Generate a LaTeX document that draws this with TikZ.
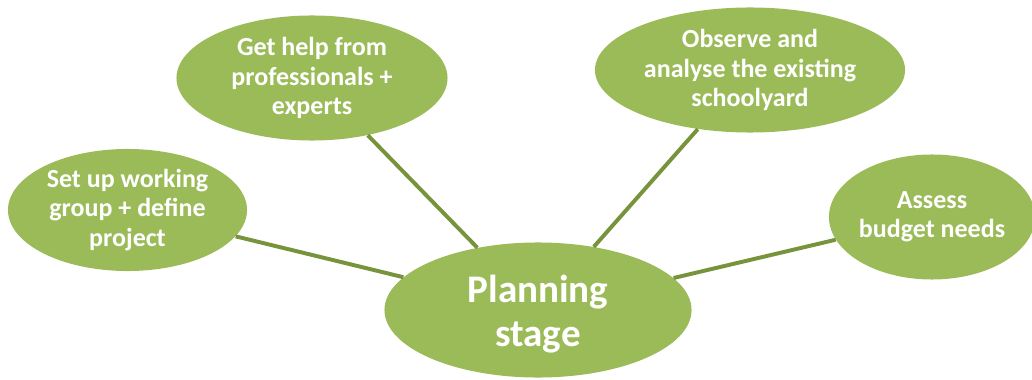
\documentclass[tikz,border=0pt]{standalone}
\usepackage{fontspec}
\setmainfont{Carlito}
\usetikzlibrary{shapes.geometric}
\definecolor{leafgreen}{HTML}{9BBB59}
\definecolor{stemgreen}{HTML}{77933C}
\tikzset{blob/.style={ellipse, fill=leafgreen, inner sep=0pt},
  words/.style={text=white, align=center, inner sep=0pt, font=\bfseries\fontsize{18.5}{20.8}\selectfont},
  hubwords/.style={words, font=\bfseries\fontsize{27.8}{31}\selectfont},
  spoke/.style={stemgreen, line width=2.8pt}}

\begin{document}
\begin{tikzpicture}[x=0.025cm,y=-0.025cm]
\useasboundingbox (0,0) rectangle (1032,380);

% the five ellipses
\node[blob, minimum width=7.675cm, minimum height=3.375cm] (hub) at (538,310) {};
\node[blob, minimum width=5.975cm, minimum height=3.05cm] (setup) at (127.5,210) {};
\node[blob, minimum width=6.775cm, minimum height=3.125cm] (help) at (312,78) {};
\node[blob, minimum width=7.75cm, minimum height=3.125cm] (observe) at (750,70) {};
\node[blob, minimum width=5.15cm, minimum height=3.125cm] (budget) at (932,217) {};

\node[hubwords] (hub-t) at (538,314) {Planning\\stage};
\node[words] (setup-t) at (setup) {Set up working\\group + define\\project};
\node[words] (help-t) at (help) {Get help from\\professionals +\\experts};
\node[words] (observe-t) at (observe) {Observe and\\analyse the existing\\schoolyard};
\node[words] (budget-t) at (budget) {Assess\\budget needs};

\draw[spoke] (setup) -- (hub);
\draw[spoke] (help) -- (hub);
\draw[spoke] (observe) -- (hub);
\draw[spoke] (budget) -- (hub);

\end{tikzpicture}
\end{document}
